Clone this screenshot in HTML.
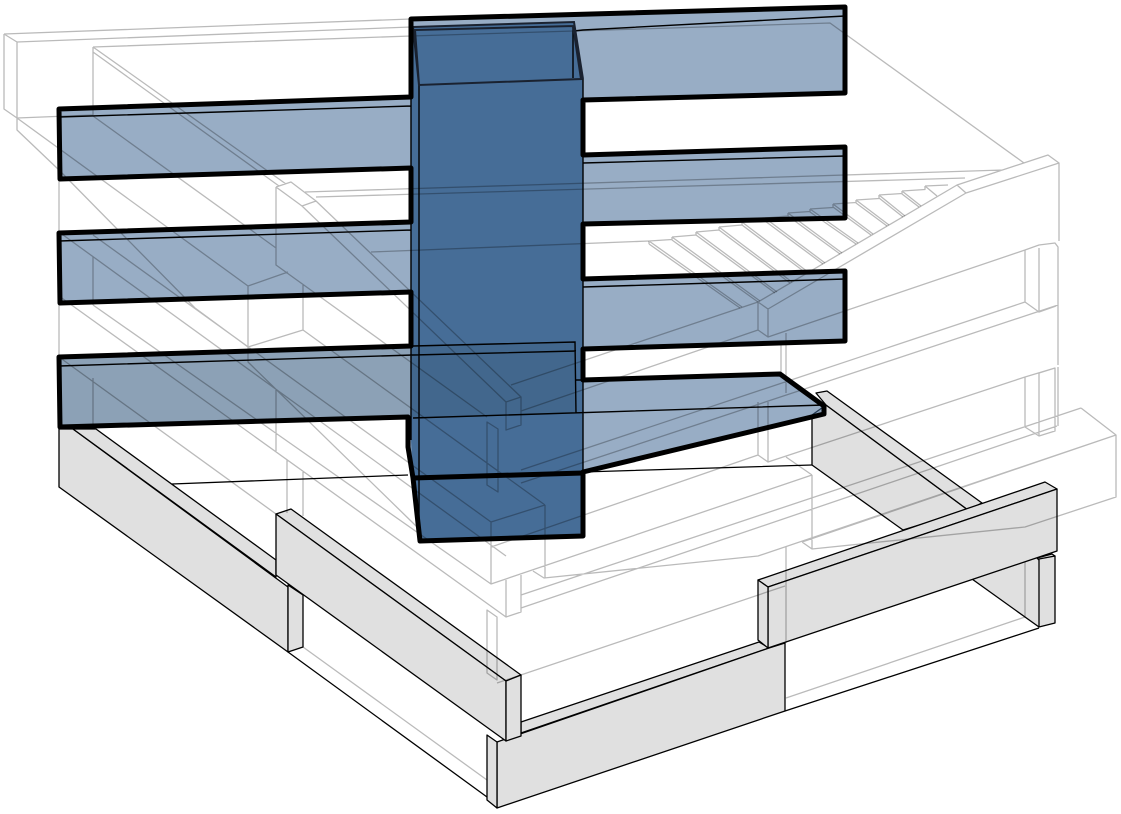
<!DOCTYPE html>
<html><head><meta charset="utf-8"><style>
html,body{margin:0;padding:0;background:#fff}
svg{display:block}
.k{fill:#e0e0e0;stroke:#000;stroke-width:1.3;stroke-linejoin:round}
.t{fill:none;stroke:#000;stroke-width:1.3}
.g{fill:none;stroke:#000;stroke-opacity:.27;stroke-width:1.3;stroke-linejoin:round}
.b{fill:none;stroke:#000;stroke-width:5;stroke-linejoin:round}
.i{fill:none;stroke:#000;stroke-width:1.4}
</style></head><body>
<svg width="1121" height="814" viewBox="0 0 1121 814" xmlns="http://www.w3.org/2000/svg">
<rect width="1121" height="814" fill="#fff"/>
<!-- ground floor black framed beams -->
<path class="t" d="M172 484L408 475M583 472L812 465M288 652L487 797M785 711L1039 628"/>
<path class="k" d="M59 429V487L288 652V587L73 429Z"/>
<path class="k" d="M73 429L96 429L276 560V577Z"/>
<path class="k" d="M288 585V652L303 647V595Z"/>
<path class="k" d="M812 465V415L826 405L968 510L903 530Z"/>
<path class="k" d="M816 393L827 391L982 503L968 510L826 405Z"/>
<path class="k" d="M965 575L1039 627V555L1000 560Z" style="stroke:none"/>
<path class="t" d="M972 579L1039 627"/>
<path class="k" d="M1037 558L1052 554L1055 556L1039 560Z"/>
<path class="k" d="M1039 559L1055 556V623L1039 627Z"/>
<path class="k" d="M521 722L759 642L769 648L521 733Z"/>
<path class="k" d="M497 742L769 648L785 643V711L497 808Z"/>
<path class="k" d="M487 735L497 742V808L487 800Z"/>
<path class="k" d="M758 580L1045 482L1057 489L768 587Z"/>
<path class="k" d="M768 587L1057 489V551L768 648Z"/>
<path class="k" d="M758 580L768 587V648L758 640Z"/>
<path class="k" d="M276 514L291 509L521 675L506 681Z"/>
<path class="k" d="M276 514L506 681V741L276 575Z"/>
<path class="k" d="M506 681L521 675V736L506 741Z"/>
<!-- blue floors -->
<path d="M411 19L845 7V93L583 100V155L845 147V218L583 224V279L845 271V341L583 349V380L780 374L824 406V414L583 472V536L420 541L413 478L408 447V417L60 427L59 357L411 346V292L60 303L59 233L411 222V168L60 179L59 109L411 97Z" fill="#3f6793" fill-opacity=".536"/>
<path d="M411 27L574 22L583 79V536L420 541L413 478L411 440Z" fill="#3f6793" fill-opacity=".92"/>
<path d="M59 357L411 346L576 342V413L408 417L60 427Z" fill="#283c3c" fill-opacity=".1"/>
<!-- translucent structure lines -->
<path class="g" d="M4 34L411 19M4 34L17 42L411 27M4 34V109L17 118V42M17 118L93 115M17 118V130L59 170L195 308L248 347L303 330V285M17 118L248 286V362L413 523L420 530M248 286L288 272
M93 47L411 36L574 31L830 23L1024 163M93 47V115M93 47L286 184M93 52L279 186M93 116L276 248
M276 187L291 182L316 201L302 206L276 187M276 187V265L487 417M302 206L506 402M316 201L521 397M506 402L521 397V425L506 430V402
M511 385L758 302M59 232L506 556M59 296L506 617M93 235L491 522M303 330L545 505M93 305L491 584M59 357L276 514M93 257V305M93 378V428M59 180V232M59 303V357M276 389V452M287 460V513M303 472V516M303 647L487 780
M491 522L545 505M491 522V584M545 505V578M491 584L812 475M533 571L544 578L758 556L1116 435M802 542L1116 435V497L1025 527L812 549L802 542M812 475V549M786 457L812 475M1081 408L521 595M1081 408L1116 435
M487 422V485L498 492V429ZM487 610V673L497 680V617ZM497 683L785 586M506 580V617L521 612V575M521 608L1057 426M521 470L1025 302M521 483L1058 305M521 411L758 330M768 337L1025 250
M758 302L768 309V337L758 330ZM768 309L966 193L1059 163L1048 155L957 185L758 302M957 185L966 193M1059 163V241M1025 250V302M1039 248V312L1025 302M1025 250L1039 245L1055 243L1058 247V365M1039 312L1056 306
M1025 377V427L1039 436L1055 431V368L1039 373V436M1025 377L1055 368M1058 367V426M1025 377L768 462V402M758 402V455L768 462M758 455L491 547M781 345V373M786 333V393M786 547V643M786 698L1025 617M1025 562V617
M305 192L1003 170M316 197L965 178M371 252L649 241"/>
<path class="g" d="M649 241L742 307M649 244L740 308M649 241V244M649 241L672 239.5V237
M672 237L760 301M672 240L758 302M672 237V240M672 237L696 235V232
M696 232L777 292M696 235L775 293M696 232V235M696 232L719 230V227
M719 227L792 282M719 230L790 283M719 227V230M719 227L742 225V222
M742 222L808 272M742 225L806 273M742 222V225M742 222L765 220.5V218
M765 218L825 263M765 221L823 264M765 218L788 216
M788 213L842 253M788 216L840 254M788 213V216M788 213L810 211.5V209
M810 209L858 243M810 212L856 244M810 209V212M810 209L833 207.5V204
M833 204L873 234M833 207L871 235M833 204V207M833 204L856 202.5V200
M856 200L889 225M856 203L887 226M856 200L879 198.5V195
M879 195L905 216M879 198L903 217M879 195L902 193.5V191
M902 191L921 206M902 194L919 207M902 191L925 189.5V186
M925 186L937 196M925 186L948 185"/>
<!-- inner thin black lines -->
<path class="i" d="M59 117L411 106M59 241L411 230M59 366L413 355L576 351M583 163L845 156M583 287L845 279M574 31L583 30L845 16M413 346L575 342L576 413M576 380H583M413 418L824 405M60 427L408 417M411 27V440M419 85V541M573 26V78M583 79V536"/>
<path fill="none" stroke="#1a2230" stroke-width="2" d="M415 30L573 26L581 79L419 85ZM413 27L574 22L583 79M413 27L419 85"/>
<!-- thick outlines -->
<path class="b" d="M411 19L845 7V93L583 100V155L845 147V218L583 224V279L845 271V341L583 349V380L780 374L824 406V414L583 472V536L420 541L413 478L408 447V417L60 427L59 357L411 346V292L60 303L59 233L411 222V168L60 179L59 109L411 97Z"/>
<path class="b" d="M413 478L583 473"/>
</svg>
</body></html>
